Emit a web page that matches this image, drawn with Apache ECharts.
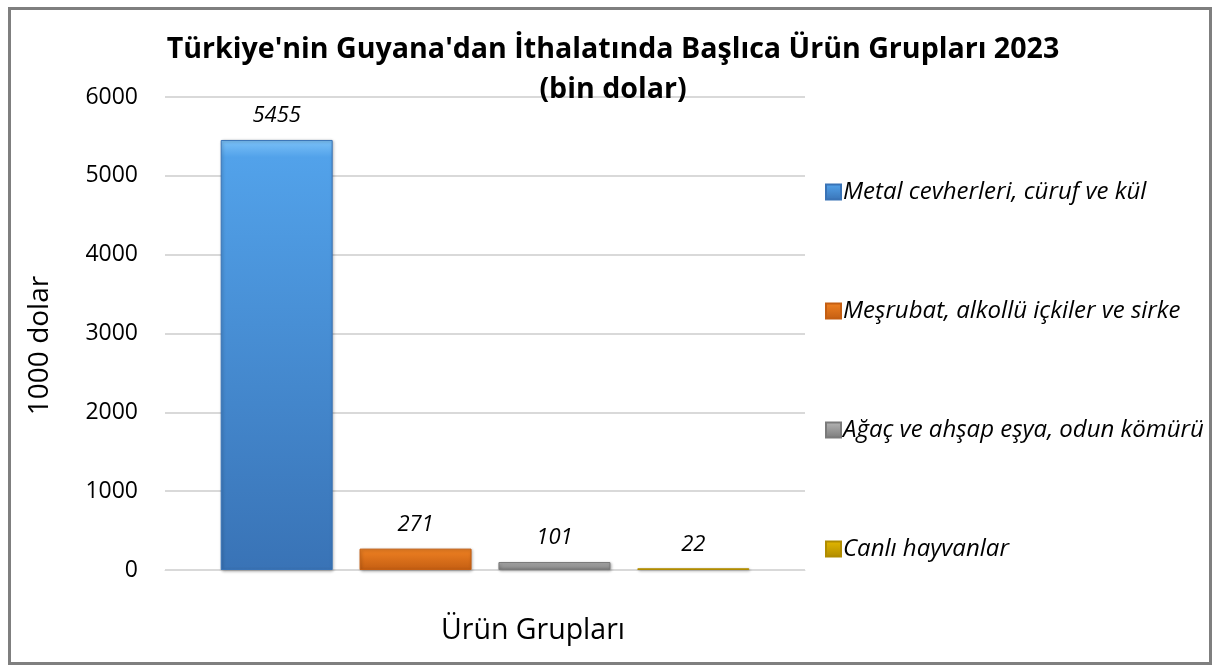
<!DOCTYPE html>
<html>
<head>
<meta charset="utf-8">
<script src="https://cdn.jsdelivr.net/npm/echarts@6/dist/echarts.min.js"></script>
<style>
  html, body { margin: 0; padding: 0; background: #fff; }
  #chart { width: 1219px; height: 671px; }
  .frame { position: absolute; left: 8px; top: 7px; width: 1198px; height: 652px; border: 3px solid #7f7f7f; pointer-events: none; }
</style>
</head>
<body>
<div id="chart"></div>
<div class="frame"></div>
<script>
const categories = ['Ürün Grupları']
const seriesNames = ['Metal cevherleri, cüruf ve kül', 'Meşrubat, alkollü içkiler ve sirke', 'Ağaç ve ahşap eşya, odun kömürü', 'Canlı hayvanlar']
const seriesValues = [5455, 271, 101, 22]
const yTicks = [0, 1000, 2000, 3000, 4000, 5000, 6000]

// bevel top, body, bottom
const barColors = [
  ['#7cc2f8', '#52a2ea', '#3973b6'],
  ['#f9ac62', '#ee8022', '#c45e12'],
  ['#dcdcdc', '#b4b4b4', '#7a7a7a'],
  ['#f8dc40', '#e2b600', '#b08c00']
]

const FONT = '"Open Sans", "Noto Sans", sans-serif'

const chart = echarts.init(document.getElementById('chart'))

const series = seriesNames.map(function (name, i) {
  return {
    name: name,
    type: 'bar',
    data: [seriesValues[i]],
    barWidth: 112,
    barGap: '24%',
    itemStyle: {
      color: new echarts.graphic.LinearGradient(0, 0, 0, 1, [
        { offset: 0, color: barColors[i][0] },
        { offset: 0.04, color: barColors[i][1] },
        { offset: 1, color: barColors[i][2] }
      ]),
      borderColor: barColors[i][2],
      borderWidth: 1,
      shadowColor: 'rgba(0,0,0,0.3)',
      shadowBlur: 3,
      shadowOffsetX: 1,
      shadowOffsetY: 1
    },
    label: {
      show: true,
      position: 'top',
      distance: 13,
      fontFamily: FONT,
      fontStyle: 'italic',
      fontSize: 22,
      color: '#000'
    }
  }
})

const options = {
  animation: false,
  color: barColors.map(c => c[1]),
  title: {
    text: "Türkiye'nin Guyana'dan İthalatında Başlıca Ürün Grupları 2023\n(bin dolar)",
    left: 608,
    top: 25,
    textAlign: 'center',
    textStyle: {
      fontFamily: FONT,
      fontWeight: 'bold',
      fontSize: 28.6,
      lineHeight: 40,
      color: '#000'
    }
  },
  grid: {
    left: 165,
    right: 414,
    top: 97,
    bottom: 101,
    containLabel: false
  },
  legend: {
    orient: 'vertical',
    left: 820,
    top: 175,
    itemGap: 95,
    itemWidth: 15,
    itemHeight: 15,
    icon: 'rect',
    textStyle: {
      fontFamily: FONT,
      fontStyle: 'italic',
      fontSize: 24,
      color: '#000',
      padding: [0, 0, 0, -3]
    },
    data: seriesNames
  },
  xAxis: {
    type: 'category',
    data: categories,
    axisLine: { show: true, lineStyle: { color: '#d9d9d9', width: 1 } },
    axisTick: { show: false },
    axisLabel: { show: false },
    name: 'Ürün Grupları',
    nameLocation: 'middle',
    nameGap: 46,
    nameTextStyle: {
      fontFamily: FONT,
      fontSize: 28.5,
      color: '#000',
      padding: [0, 0, 0, 96]
    }
  },
  yAxis: {
    type: 'value',
    min: yTicks[0],
    max: yTicks[yTicks.length - 1],
    interval: 1000,
    axisLine: { show: false },
    axisTick: { show: false },
    splitLine: { lineStyle: { color: '#d9d9d9', width: 2 } },
    axisLabel: {
      fontFamily: FONT,
      fontSize: 23,
      color: '#000',
      margin: 27,
      formatter: v => String(v)
    },
    name: '1000 dolar',
    nameLocation: 'middle',
    nameRotate: 90,
    nameGap: 111,
    nameTextStyle: {
      fontFamily: FONT,
      fontSize: 28,
      color: '#000',
      padding: [0, 24, 0, 0]
    }
  },
  series: series
}

chart.setOption(options)
</script>
</body>
</html>
